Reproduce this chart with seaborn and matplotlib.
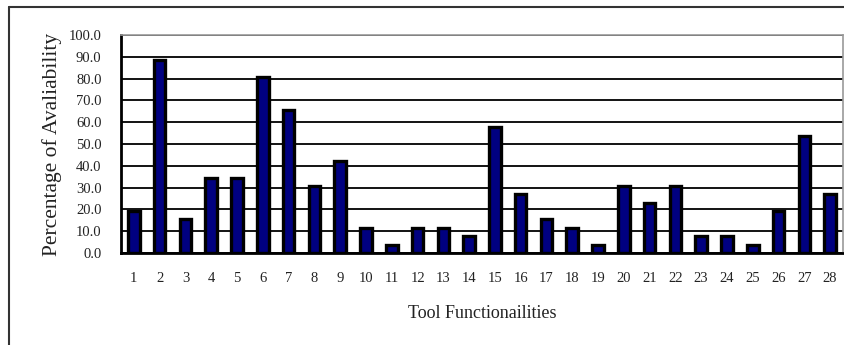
import matplotlib
matplotlib.use("Agg")
import matplotlib.pyplot as plt
from matplotlib.lines import Line2D
from matplotlib.ticker import FormatStrFormatter, FixedLocator
import pandas as pd
import seaborn as sns

functions = [str(i) for i in range(1, 29)]
availability = [19.2, 88.5, 15.4, 34.6, 34.6, 80.8, 65.4, 30.8, 42.3, 11.5,
                3.8, 11.5, 11.5, 7.7, 57.7, 26.9, 15.4, 11.5, 3.8, 30.8,
                23.1, 30.8, 7.7, 7.7, 3.8, 19.2, 53.8, 26.9]

df = pd.DataFrame({"func": functions, "pct": availability})

sns.set_style("white")
plt.rcParams["font.family"] = ["Liberation Serif", "DejaVu Serif"]

fig = plt.figure(figsize=(8.44, 3.45), dpi=100)
ax = fig.add_axes([121 / 844, 92 / 345, 722 / 844, 218 / 345])

sns.barplot(data=df, x="func", y="pct", color="#000080", width=0.45,
            edgecolor="black", linewidth=2.4, saturation=1, ax=ax, zorder=3)

ax.set_ylim(0, 100)
ax.set_xlim(-0.5, len(functions) - 0.5)
ax.set_yticks(range(0, 101, 10))
ax.yaxis.set_major_formatter(FormatStrFormatter("%.1f"))
ax.yaxis.grid(True, color="black", linewidth=1.3, zorder=0)
ax.set_axisbelow(True)

ax.xaxis.set_minor_locator(FixedLocator([i + 0.5 for i in range(len(functions) - 1)]))
ax.tick_params(axis="x", which="major", length=0, pad=14, labelsize=10.5, labelcolor="#222222")
ax.tick_params(axis="x", which="minor", direction="in", length=4, width=1.5, color="black")
ax.tick_params(axis="y", length=0, pad=14, labelsize=10.5, labelcolor="#222222")

for side in ["left", "bottom"]:
    ax.spines[side].set_color("black")
    ax.spines[side].set_linewidth(2)
for side in ["top", "right"]:
    ax.spines[side].set_color("#999999")
    ax.spines[side].set_linewidth(1.2)

ax.set_xlabel("Tool Functionailities", fontsize=13, labelpad=14, color="#222222")
ax.set_ylabel("Percentage of Avaliability", fontsize=15.5, labelpad=5, color="#222222")

# outer frame (left and top edges)
fig.add_artist(Line2D([9 / 844, 9 / 844], [0, 1 - 7 / 345], transform=fig.transFigure,
                      color="#333333", linewidth=1.5))
fig.add_artist(Line2D([9 / 844, 1], [1 - 7 / 345, 1 - 7 / 345], transform=fig.transFigure,
                      color="#333333", linewidth=1.5))

fig.savefig("out.png", dpi=100, facecolor="white")
